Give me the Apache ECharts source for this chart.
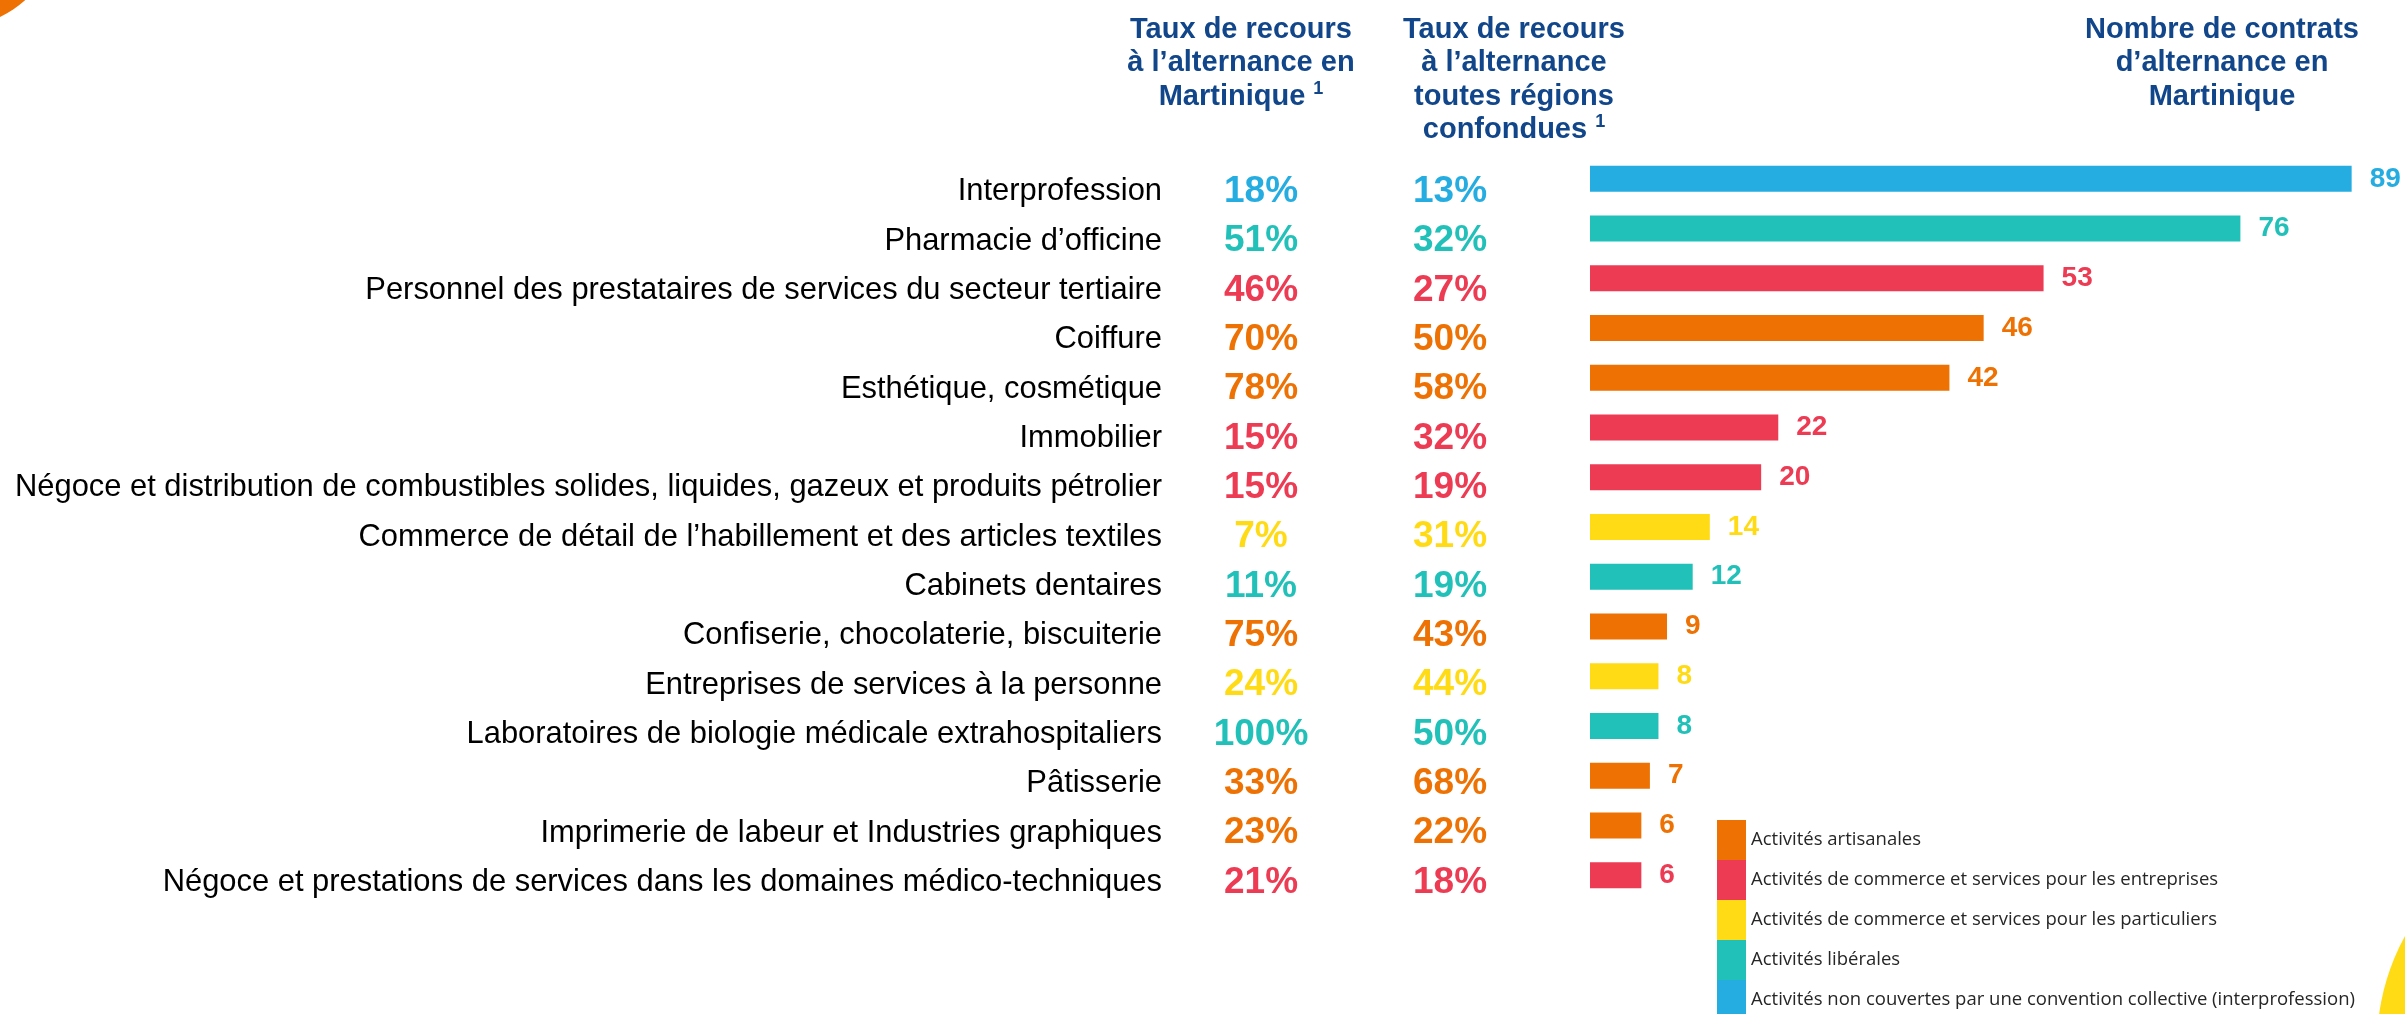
<!DOCTYPE html>
<html>
<head>
<meta charset="utf-8">
<script src="https://cdn.jsdelivr.net/npm/echarts@6/dist/echarts.min.js"></script>
<style>
  html, body { margin: 0; padding: 0; background: #fff; }
  #chart { width: 2405px; height: 1014px; }
</style>
</head>
<body>
<div id="chart"></div>
<script>
// catégories (de haut en bas)
const categories = [
  'Interprofession',
  'Pharmacie d’officine',
  'Personnel des prestataires de services du secteur tertiaire',
  'Coiffure',
  'Esthétique, cosmétique',
  'Immobilier',
  'Négoce et distribution de combustibles solides, liquides, gazeux et produits pétrolier',
  'Commerce de détail de l’habillement et des articles textiles',
  'Cabinets dentaires',
  'Confiserie, chocolaterie, biscuiterie',
  'Entreprises de services à la personne',
  'Laboratoires de biologie médicale extrahospitaliers',
  'Pâtisserie',
  'Imprimerie de labeur et Industries graphiques',
  'Négoce et prestations de services dans les domaines médico-techniques'
];
const rateMartinique = [18, 51, 46, 70, 78, 15, 15, 7, 11, 75, 24, 100, 33, 23, 21];
const rateAll = [13, 32, 27, 50, 58, 32, 19, 31, 19, 43, 44, 50, 68, 22, 18];
const contracts = [89, 76, 53, 46, 42, 22, 20, 14, 12, 9, 8, 8, 7, 6, 6];
// secteur de chaque ligne (index dans sectorNames)
const sectorOf = [4, 3, 1, 0, 0, 1, 1, 2, 3, 0, 2, 3, 0, 0, 1];
const sectorNames = [
  'Activités artisanales',
  'Activités de commerce et services pour les entreprises',
  'Activités de commerce et services pour les particuliers',
  'Activités libérales',
  'Activités non couvertes par une convention collective (interprofession)'
];
const sectorColors = ['#EE7203', '#EC3B53', '#FFDB15', '#21C1B9', '#25ADE1'];

const ARIAL = 'Liberation Sans, Arial, sans-serif';
const HEAD = '#12468A';

const chart = echarts.init(document.getElementById('chart'));

// styles riches pour les pourcentages colorés
const pctRich = {};
sectorColors.forEach((c, i) => {
  pctRich['s' + i] = { color: c, fontSize: 37, fontWeight: 'bold', fontFamily: ARIAL };
});
const pctFormatter = (arr) => (value, index) => '{s' + sectorOf[index] + '|' + arr[index] + '%}';

const headStyle = {
  fontSize: 29, fontWeight: 'bold', color: HEAD, fontFamily: ARIAL, lineHeight: 33.5,
  rich: {
    sup: { fontSize: 18, fontWeight: 'bold', color: HEAD, fontFamily: ARIAL, lineHeight: 30, verticalAlign: 'top' }
  }
};

// axe de texte (libellés / taux) sur la grille 1
const textAxis = (margin, align, extra) => ({
  type: 'category', gridIndex: 1, position: 'left', inverse: true, data: categories,
  axisLine: { show: false }, axisTick: { show: false }, splitLine: { show: false },
  axisLabel: Object.assign({ interval: 0, margin: margin, align: align }, extra)
});

const option = {
  animation: false,
  backgroundColor: '#fff',
  title: [
    { text: 'Taux de recours\nà l’alternance en\nMartinique {sup|1}', left: 1241, top: 13, textAlign: 'center', padding: 0, textStyle: headStyle },
    { text: 'Taux de recours\nà l’alternance\ntoutes régions\nconfondues {sup|1}', left: 1514, top: 13, textAlign: 'center', padding: 0, textStyle: headStyle },
    { text: 'Nombre de contrats\nd’alternance en\nMartinique', left: 2222, top: 13, textAlign: 'center', padding: 0, textStyle: headStyle }
  ],
  legend: {
    orient: 'vertical',
    left: 1717,
    top: 820,
    height: 230,
    padding: 0,
    itemWidth: 29,
    itemHeight: 40,
    itemGap: 0,
    icon: 'rect',
    selectedMode: false,
    textStyle: { fontFamily: 'Open Sans', fontSize: 18.5, color: '#262626' },
    data: sectorNames
  },
  grid: [
    { left: 1590, right: 2, top: 154, height: 746 },   // barres
    { left: 1600, right: 700, top: 167, height: 740 }  // libellés + taux
  ],
  xAxis: [
    { type: 'value', gridIndex: 0, min: 0, max: 95, show: false },
    { type: 'value', gridIndex: 1, min: 0, max: 1, show: false }
  ],
  yAxis: [
    { type: 'category', gridIndex: 0, inverse: true, data: categories, show: false },
    textAxis(438, 'right', { fontSize: 30.9, color: '#000', fontFamily: ARIAL }),
    textAxis(339, 'center', { formatter: pctFormatter(rateMartinique), rich: pctRich }),
    textAxis(150, 'center', { formatter: pctFormatter(rateAll), rich: pctRich })
  ],
  graphic: [
    { type: 'circle', shape: { cx: -48, cy: -82, r: 110 }, style: { fill: '#EE7203' }, z: -1 },
    { type: 'circle', shape: { cx: 2603, cy: 1045, r: 226 }, style: { fill: '#FFDB15' }, z: -1 }
  ],
  series: [
    {
      type: 'bar',
      xAxisIndex: 0,
      yAxisIndex: 0,
      barWidth: 26,
      silent: true,
      label: {
        show: true,
        position: 'right',
        distance: 18,
        fontSize: 28,
        fontWeight: 'bold',
        fontFamily: ARIAL
      },
      data: contracts.map((v, i) => ({
        value: v,
        itemStyle: { color: sectorColors[sectorOf[i]] },
        label: { color: sectorColors[sectorOf[i]] }
      }))
    }
  ].concat(sectorNames.map((name, i) => ({
    // séries vides pour la légende
    name: name,
    type: 'line',
    xAxisIndex: 0,
    yAxisIndex: 0,
    data: [],
    itemStyle: { color: sectorColors[i] },
    lineStyle: { color: sectorColors[i] }
  })))
};

chart.setOption(option);
</script>
</body>
</html>
